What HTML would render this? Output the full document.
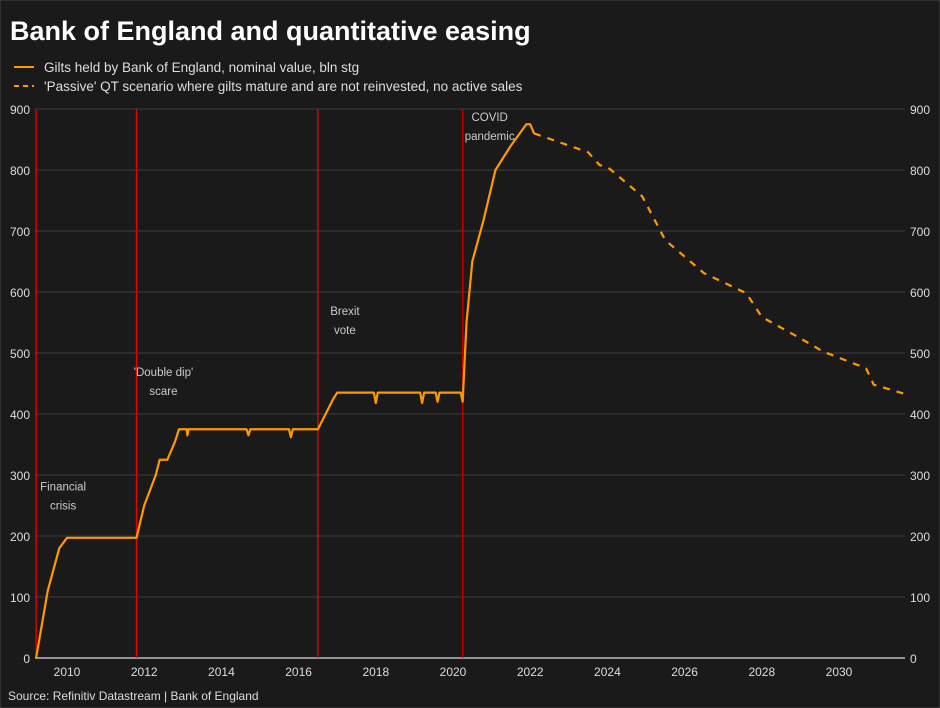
<!DOCTYPE html>
<html><head><meta charset="utf-8"><style>
body{margin:0;background:#1a1a1a;}
svg{display:block;font-family:"Liberation Sans",sans-serif;}
</style></head><body>
<svg id="chart" width="940" height="708" viewBox="0 0 940 708">
<rect width="940" height="708" fill="#1a1a1a" stroke="#444"/>
<text x="10" y="40" fill="#fff" font-size="27" font-weight="bold">Bank of England and quantitative easing</text>
<g>
<line x1="14" y1="67" x2="34" y2="67" stroke="#f90" stroke-width="2"/>
<text x="44" y="72" fill="#ddd" font-size="13.5">Gilts held by Bank of England, nominal value, bln stg</text>
<line x1="14" y1="86" x2="34" y2="86" stroke="#f90" stroke-width="2" stroke-dasharray="5,4"/>
<text x="44" y="91" fill="#ddd" font-size="13.5">'Passive' QT scenario where gilts mature and are not reinvested, no active sales</text>
</g>
<g id="grid"></g><g id="marks"></g>
<text x="8" y="700" fill="#ddd" font-size="12">Source: Refinitiv Datastream | Bank of England</text>
</svg>
<script>
const yTicks=[0,100,200,300,400,500,600,700,800,900];
const xTicks=[2010,2012,2014,2016,2018,2020,2022,2024,2026,2028,2030];
const actualYears=[2009.2,2009.5,2009.8,2010.0,2011.8,2012.0,2012.3,2012.4,2012.6,2012.8,2012.9,2013.1,2013.12,2013.15,2014.65,2014.7,2014.75,2015.75,2015.8,2015.85,2016.5,2016.7,2016.9,2017.0,2017.95,2018.0,2018.05,2019.15,2019.2,2019.25,2019.55,2019.6,2019.65,2020.2,2020.25,2020.35,2020.5,2020.8,2021.1,2021.5,2021.9,2022.0,2022.1];
const actualValues=[0,110,180,197,197,250,300,325,325,355,375,375,365,375,375,365,375,375,362,375,375,400,425,435,435,418,435,435,418,435,435,420,435,435,420,550,650,720,800,840,875,875,860];
const qtYears=[2022.1,2023.5,2023.8,2024.0,2024.9,2025.5,2026.5,2027.6,2028.0,2029.0,2029.6,2030.7,2030.9,2031.7];
const qtValues=[860,829,808,805,757,685,631,598,559,524,502,475,448,433];
const eventYears=[2009.2,2011.8,2016.5,2020.25];
const eventLabels=[["Financial","crisis"],["'Double dip'","scare"],["Brexit","vote"],["COVID","pandemic"]];
const eventLabelVals=[275,462,562,880];
const X=y=>67+(y-2010)*38.6, Y=v=>658-v*0.61;
const NS="http://www.w3.org/2000/svg";
const g=document.getElementById('grid'), m=document.getElementById('marks');
function mk(tag,at,par){const e=document.createElementNS(NS,tag);for(const k in at)e.setAttribute(k,at[k]);par.appendChild(e);return e;}
yTicks.forEach(t=>{
 const l=mk('line',{x1:35,x2:905,y1:Y(t),y2:Y(t),stroke:t?'#333':'#bbb','stroke-width':t?1.5:1.5},g);
 
 
 const a=mk('text',{x:30,y:Y(t)+5,fill:'#ddd','font-size':12,'text-anchor':'end'},g);a.textContent=t;
 
 
 const b=mk('text',{x:910,y:Y(t)+5,fill:'#ddd','font-size':12},g);b.textContent=t;
 
 
});
xTicks.forEach(t=>{const a=mk('text',{x:X(t),y:676,fill:'#ddd','font-size':12,'text-anchor':'middle'},g);a.textContent=t;
 
 });
eventYears.forEach((yr,i)=>{
 const l=mk('line',{x1:X(yr),x2:X(yr),y1:Y(900),y2:Y(0),stroke:i==3?'#c00':'#e00','stroke-width':1.3},m);
 
 
 const cx=X(yr)+27;
 eventLabels[i].forEach((s,j)=>{const t=mk('text',{x:cx,y:Y(eventLabelVals[i])+j*19,fill:'#ccc','font-size':11.5,'text-anchor':'middle'},m);t.textContent=s;
 
 });
});
const p1=mk('polyline',{points:actualYears.map((y,i)=>X(y)+','+Y(actualValues[i])).join(' '),fill:'none',stroke:'#f90','stroke-width':2.2,'stroke-linejoin':'round'},m);


const p2=mk('polyline',{points:qtYears.map((y,i)=>X(y)+','+Y(qtValues[i])).join(' '),fill:'none',stroke:'#f90','stroke-width':2.2,'stroke-dasharray':'7,7'},m);


</script>
</body></html>
